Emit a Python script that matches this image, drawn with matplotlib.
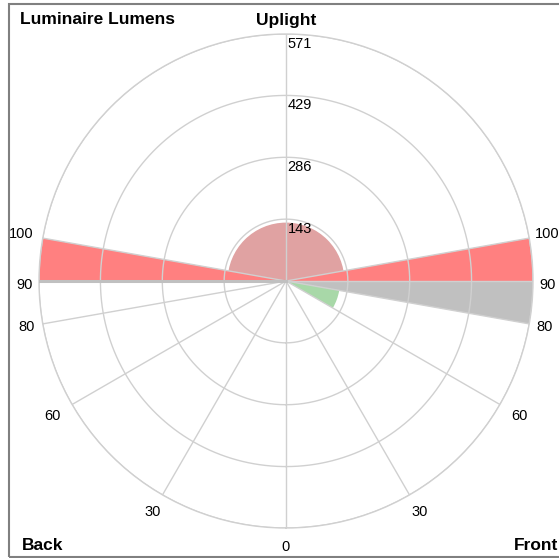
import numpy as np
import matplotlib
matplotlib.use("Agg")
import matplotlib.pyplot as plt
from matplotlib.patches import Rectangle

# lumen zones: angle from nadir (front = 0..180, back stored as 360-angle)
zone_from = [90, 90, 260, 80, 60]
zone_to = [270, 100, 270, 90, 80]
zone_lumens = [135, 576, 576, 571, 125]
zone_colors = ['#E0A2A2', '#FF8080', '#FF8080', '#C0C0C0', '#A8D8A8']

ring_values = [143, 286, 429, 571]
angle_ticks = [0, 30, 60, 80, 90, 100]
spokes = [0, 30, 60, 80, 90, 100, 180, 260, 270, 280, 300, 330]

plt.rcParams['font.family'] = ['Liberation Sans', 'DejaVu Sans']

W, H = 559, 558
fig = plt.figure(figsize=(W / 100, H / 100), dpi=100)
cx, cy, R = 286, 281, 247
ax = fig.add_axes([(cx - R) / W, (H - cy - R) / H, 2 * R / W, 2 * R / H], projection='polar')
ax.set_theta_zero_location('S')
ax.set_theta_direction(1)
ax.set_ylim(0, ring_values[-1])
ax.grid(False)
ax.set_xticks([])
ax.set_yticks([])
ax.spines['polar'].set_color('#D0D0D0')
ax.spines['polar'].set_linewidth(1)
ax.patch.set_alpha(0)

# wedges
for a0, a1, v, c in zip(zone_from, zone_to, zone_lumens, zone_colors):
    t0, t1 = np.radians(a0), np.radians(a1)
    ax.bar((t0 + t1) / 2, v, width=t1 - t0, bottom=0, color=c, edgecolor='none',
           align='center', zorder=2)

# grid drawn over wedges
th = np.linspace(0, 2 * np.pi, 400)
for r in ring_values:
    ax.plot(th, np.full_like(th, r), color='#D0D0D0', lw=1, zorder=3)
for s in spokes:
    ax.plot([np.radians(s)] * 2, [0, ring_values[-1]], color='#D0D0D0', lw=1, zorder=3)
ax.plot([np.radians(270)] * 2, [0, ring_values[-1]], color='#C0C0C0', lw=2.2, zorder=3)

# ring labels
for r in ring_values:
    ax.annotate(str(r), xy=(np.pi, r), xytext=(1, -2), textcoords='offset points',
                ha='left', va='top', fontsize=10.5, zorder=5)

# angle labels
lab_scale = {0: 1.075, 30: 1.08, 60: 1.09, 80: 1.065, 90: 1.06, 100: 1.09}
for a in angle_ticks:
    for t in {a, (360 - a) % 360}:
        dx = -3 if (a == 100 and t == 100) else 0
        ax.annotate(str(a), xy=(np.radians(t), ring_values[-1] * lab_scale[a]),
                    xytext=(dx, -3 if a == 90 else 0), textcoords='offset points',
                    ha='center', va='center', fontsize=10.5, annotation_clip=False)

fs = 12.5
fig.text(20 / W, 1 - 20 / H, 'Luminaire Lumens', fontsize=fs, fontweight='bold', ha='left', va='center')
fig.text(cx / W, 1 - 20 / H, 'Uplight', fontsize=fs, fontweight='bold', ha='center', va='center')
fig.text(22 / W, 1 - 546 / H, 'Back', fontsize=fs, fontweight='bold', ha='left', va='center')
fig.text(558 / W, 1 - 546 / H, 'Front', fontsize=fs, fontweight='bold', ha='right', va='center')

fig.add_artist(Rectangle((8.5 / W, 1.5 / H), 1.0, 1 - 5 / H, transform=fig.transFigure,
                         fill=False, edgecolor='#808080', lw=1.5))

fig.savefig('out.png', dpi=100)
